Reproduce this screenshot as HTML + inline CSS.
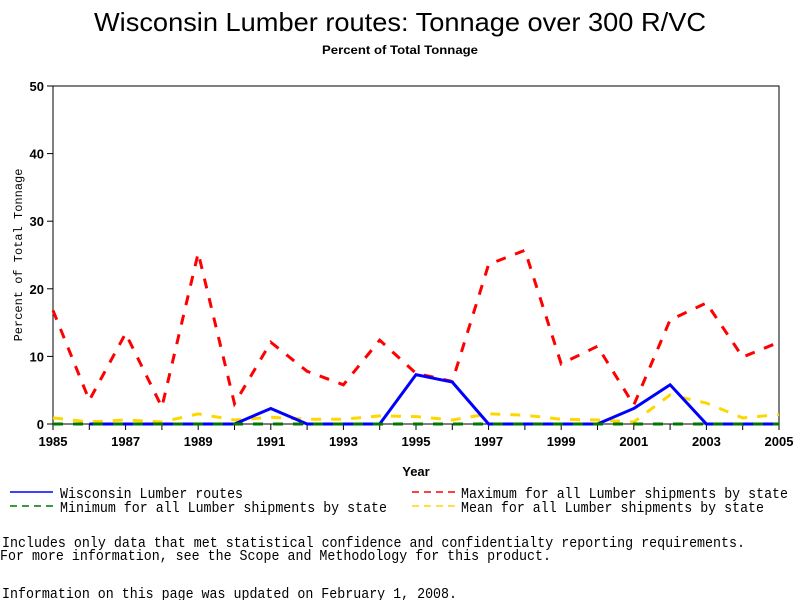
<!DOCTYPE html>
<html><head><meta charset="utf-8"><style>body{margin:0;background:#fff}svg{display:block}</style></head>
<body>
<svg id="chart" width="800" height="600" xmlns="http://www.w3.org/2000/svg" font-family="Liberation Sans, sans-serif">
<text x="400" y="31" font-size="26" text-anchor="middle" textLength="612" lengthAdjust="spacingAndGlyphs">Wisconsin Lumber routes: Tonnage over 300 R/VC</text>
<text x="400" y="54" font-size="12" font-weight="bold" text-anchor="middle" textLength="156" lengthAdjust="spacingAndGlyphs">Percent of Total Tonnage</text>
<rect x="53" y="86" width="726" height="338" fill="none" stroke="#000" stroke-width="1"/>
<g id="yticks"></g>
<g id="xticks"></g>
<text transform="translate(22,255) rotate(-90)" font-family="Liberation Mono, monospace" font-size="12" text-anchor="middle">Percent of Total Tonnage</text>
<text x="416" y="476" font-size="13" font-weight="bold" text-anchor="middle">Year</text>
<g id="series"></g>
<g font-family="Liberation Mono, monospace" font-size="14.5">
<g><line x1="10" y1="492" x2="53" y2="492" stroke="#0000ff" stroke-width="1.5"/><text x="60" y="498" textLength="183" lengthAdjust="spacingAndGlyphs">Wisconsin Lumber routes</text></g>
<g><line x1="10" y1="506" x2="53" y2="506" stroke="#007700" stroke-width="1.5" stroke-dasharray="7,5"/><text x="60" y="512" textLength="327" lengthAdjust="spacingAndGlyphs">Minimum for all Lumber shipments by state</text></g>
<g><line x1="412" y1="492" x2="455" y2="492" stroke="#ff0000" stroke-width="1.5" stroke-dasharray="7,5"/><text x="461" y="498" textLength="327" lengthAdjust="spacingAndGlyphs">Maximum for all Lumber shipments by state</text></g>
<g><line x1="412" y1="506" x2="455" y2="506" stroke="#ffd700" stroke-width="1.5" stroke-dasharray="7,5"/><text x="461" y="512" textLength="303" lengthAdjust="spacingAndGlyphs">Mean for all Lumber shipments by state</text></g>
<text x="2" y="547" textLength="743" lengthAdjust="spacingAndGlyphs">Includes only data that met statistical confidence and confidentialty reporting requirements.</text>
<text x="0" y="560" textLength="551" lengthAdjust="spacingAndGlyphs">For more information, see the Scope and Methodology for this product.</text>
<text x="2" y="598" textLength="455" lengthAdjust="spacingAndGlyphs">Information on this page was updated on February 1, 2008.</text>
</g>
</svg>
<script>
const years=[1985,1986,1987,1988,1989,1990,1991,1992,1993,1994,1995,1996,1997,1998,1999,2000,2001,2002,2003,2004,2005];
const wisconsin=[null,0,0,0,0,0,2.3,0,0,0,7.3,6.2,0,0,0,0,2.3,5.8,0,0,0];
const maximum=[16.8,3.5,13.4,2.5,25.3,3,12.1,7.8,5.8,12.4,7.5,6.3,23.6,25.7,8.9,11.5,2.8,15.4,17.9,9.9,12.1];
const minimum=[0,0,0,0,0,0,0,0,0,0,0,0,0,0,0,0,0,0,0,0,0];
const mean=[0.9,0.3,0.6,0.3,1.5,0.6,1.0,0.7,0.7,1.2,1.1,0.6,1.5,1.3,0.7,0.6,0.3,4.3,3.1,0.9,1.4];
const yTicks=[0,10,20,30,40,50];
const xTickLabels=[1985,1987,1989,1991,1993,1995,1997,1999,2001,2003,2005];
const NS="http://www.w3.org/2000/svg";
const x=v=>53+(v-1985)*(726/20);
const y=v=>424-v*(338/50);
function mk(tag,attrs,parent){const e=document.createElementNS(NS,tag);for(const k in attrs)e.setAttribute(k,attrs[k]);parent.appendChild(e);return e;}
const yg=document.getElementById('yticks');
yTicks.forEach(t=>{
 const l=mk('line',{x1:47,x2:53,y1:y(t),y2:y(t),stroke:'#000'},yg);
 
 
 const tx=mk('text',{x:44,y:y(t)+5,'font-size':13,'font-weight':'bold','text-anchor':'end'},yg);
 tx.textContent=t;
 
 
});
const xg=document.getElementById('xticks');
years.forEach(yr=>{
 const l=mk('line',{x1:x(yr),x2:x(yr),y1:424,y2:430,stroke:'#000'},xg);
 
 
});
xTickLabels.forEach(yr=>{
 const tx=mk('text',{x:x(yr),y:446,'font-size':13,'font-weight':'bold','text-anchor':'middle'},xg);
 tx.textContent=yr;
 
 
});
const sg=document.getElementById('series');
function line(vals,color,dash,name,w){
 let d='';let pen=false;
 vals.forEach((v,i)=>{if(v===null){pen=false;return;}d+=(pen?'L':'M')+x(years[i])+','+y(v)+' ';pen=true;});
 const p=mk('path',{d:d,fill:'none',stroke:color,'stroke-width':w,'stroke-dasharray':dash||'none'},sg);
 
 
}
line(mean,'#ffd700','10,10','mean-line',3);
line(maximum,'#ff0000','10,10','maximum-line',3);
line(wisconsin,'#0000ff','','wisconsin-line',3);
line(minimum,'#007700','10,10','minimum-line',3);
</script>
</body></html>
